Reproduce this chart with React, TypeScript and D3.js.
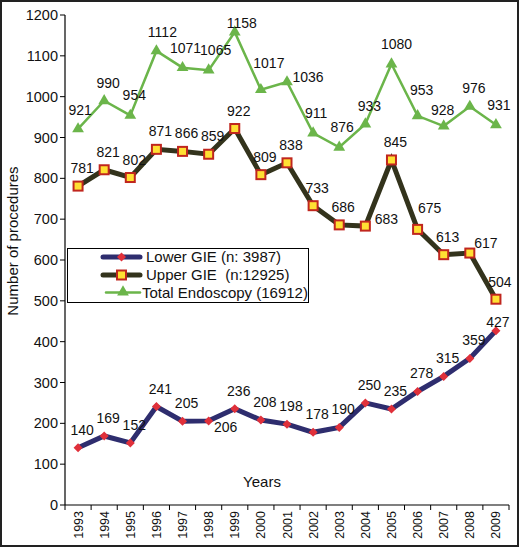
import React, { useEffect } from "react";
import * as d3 from "d3";

const years = ["1993","1994","1995","1996","1997","1998","1999","2000","2001","2002","2003","2004","2005","2006","2007","2008","2009"];
const lowerGIE = [140,169,152,241,205,206,236,208,198,178,190,250,235,278,315,359,427];
const upperGIE = [781,821,802,871,866,859,922,809,838,733,686,683,845,675,613,617,504];
const totalEndo = [921,990,954,1112,1071,1065,1158,1017,1036,911,876,933,1080,953,928,976,931];
const yTicks = [0,100,200,300,400,500,600,700,800,900,1000,1100,1200];
const legendLabels = ["Lower GIE (n: 3987)", "Upper GIE  (n:12925)", "Total Endoscopy (16912)"];

// label offsets (dx, dy) relative to the point; default [4,-13]
const DEF: [number, number] = [4, -13];
const totalOff: Record<number, [number, number]> = {0:[2,-14],2:[4,-15],3:[6,-14],4:[3,-15],5:[7,-15],6:[7,-4],7:[8,-22],8:[21,0],9:[3,-15],10:[3,-15],12:[5,-15],13:[4,-21],14:[-1,-11],16:[3,-15]};
const upperOff: Record<number, [number, number]> = {11:[21,-2],13:[12,-16],15:[16,-5],16:[4,-12]};
const lowerOff: Record<number, [number, number]> = {5:[17,11],16:[2,-4]};

const W = 519, H = 547;
const M = { left: 65, right: 509, top: 15, bottom: 505 };
const FONT = "'Liberation Sans', Arial, sans-serif";

export default function App() {
  useEffect(() => {
    document.body.style.margin = "0";
  }, []);

  const x = d3.scaleBand<string>().domain(years).range([M.left, M.right]).paddingInner(0).paddingOuter(0);
  const y = d3.scaleLinear().domain([0, 1200]).range([M.bottom, M.top]);
  const cx = (i: number) => (x(years[i]) as number) + x.bandwidth() / 2;
  const line = d3.line<number>().x((_, i) => cx(i)).y((d) => y(d));

  const triPath = d3.symbol().type(d3.symbolTriangle).size(60)() as string;
  const diamond = (px: number, py: number, r: number) => `M${px},${py - r}L${px + r},${py}L${px},${py + r}L${px - r},${py}Z`;

  const lowerColor = "#2E2D6E";
  const upperColor = "#33331C";
  const totalColor = "#6BB54A";
  const red = "#E0303A";

  const labels = (vals: number[], off: Record<number, [number, number]>, key: string) =>
    vals.map((v, i) => {
      const o = off[i] || DEF;
      return (
        <text key={key + i} x={cx(i) + o[0]} y={y(v) + o[1]} textAnchor="middle" fontSize={14} fill="#111">
          {v}
        </text>
      );
    });

  const boundaries = years.map((yr) => x(yr) as number).concat([M.right]);

  return (
    <svg width={W} height={H} style={{ display: "block", fontFamily: FONT }}>
      <rect x={0} y={0} width={W} height={H} fill="#fff" />
      <rect x={1} y={1} width={W - 2} height={H - 2} fill="none" stroke="#222" strokeWidth={2} />

      {/* Y axis */}
      <line x1={M.left} x2={M.left} y1={M.top} y2={M.bottom} stroke="#000" strokeWidth={1.2} />
      {yTicks.map((t) => (
        <g key={"yt" + t}>
          <line x1={M.left - 5} x2={M.left} y1={y(t)} y2={y(t)} stroke="#000" />
          <text x={M.left - 7} y={y(t) + 5} textAnchor="end" fontSize={14.5} fill="#111">
            {t}
          </text>
        </g>
      ))}
      {/* X axis */}
      <line x1={M.left} x2={M.right} y1={M.bottom} y2={M.bottom} stroke="#000" strokeWidth={1.2} />
      {boundaries.map((b, i) => (
        <line key={"xt" + i} x1={b} x2={b} y1={M.bottom} y2={M.bottom + 5} stroke="#000" />
      ))}
      {years.map((yr, i) => (
        <text key={"yl" + yr} transform={`translate(${cx(i) + 4.5},${M.bottom + 6}) rotate(-90)`} textAnchor="end" fontSize={12.5} fill="#111">
          {yr}
        </text>
      ))}

      <text x={262} y={487} textAnchor="middle" fontSize={15} fill="#111">Years</text>
      <text transform={`translate(18,241) rotate(-90)`} textAnchor="middle" fontSize={15} fill="#111">Number of procedures</text>

      {/* Total */}
      <path d={line(totalEndo) as string} fill="none" stroke={totalColor} strokeWidth={2.5} />
      {totalEndo.map((v, i) => (
        <path key={"tm" + i} d={triPath} transform={`translate(${cx(i)},${y(v)})`} fill={totalColor} />
      ))}
      {/* Upper */}
      <path d={line(upperGIE) as string} fill="none" stroke={upperColor} strokeWidth={5} strokeLinejoin="miter" />
      {upperGIE.map((v, i) => (
        <rect key={"um" + i} x={cx(i) - 4.5} y={y(v) - 4.5} width={9} height={9} fill="#FFE033" stroke="#C0261E" strokeWidth={2} />
      ))}
      {/* Lower */}
      <path d={line(lowerGIE) as string} fill="none" stroke={lowerColor} strokeWidth={5} />
      {lowerGIE.map((v, i) => (
        <path key={"lm" + i} d={diamond(cx(i), y(v), 4.5)} fill={red} />
      ))}

      {labels(totalEndo, totalOff, "tl")}
      {labels(upperGIE, upperOff, "ul")}
      {labels(lowerGIE, lowerOff, "ll")}

      {/* Legend */}
      <rect x={67.5} y={248.5} width={241} height={54} fill="#fff" stroke="#000" strokeWidth={1} />
      <line x1={103} x2={140} y1={257} y2={257} stroke={lowerColor} strokeWidth={5} strokeLinecap="round" />
      <path d={diamond(121.5, 257, 4.5)} fill={red} />
      <text x={146} y={262} fontSize={15} fill="#111">{legendLabels[0]}</text>
      <line x1={103} x2={140} y1={275} y2={275} stroke={upperColor} strokeWidth={5} strokeLinecap="round" />
      <rect x={117} y={270.5} width={9} height={9} fill="#FFE033" stroke="#C0261E" strokeWidth={2} />
      <text x={146} y={280} fontSize={15} fill="#111" style={{ whiteSpace: "pre" }}>{legendLabels[1]}</text>
      <line x1={106} x2={140} y1={292.5} y2={292.5} stroke={totalColor} strokeWidth={2.5} strokeLinecap="round" />
      <path d={triPath} transform="translate(123,292)" fill={totalColor} />
      <text x={142} y={298} fontSize={15} fill="#111">{legendLabels[2]}</text>
    </svg>
  );
}
